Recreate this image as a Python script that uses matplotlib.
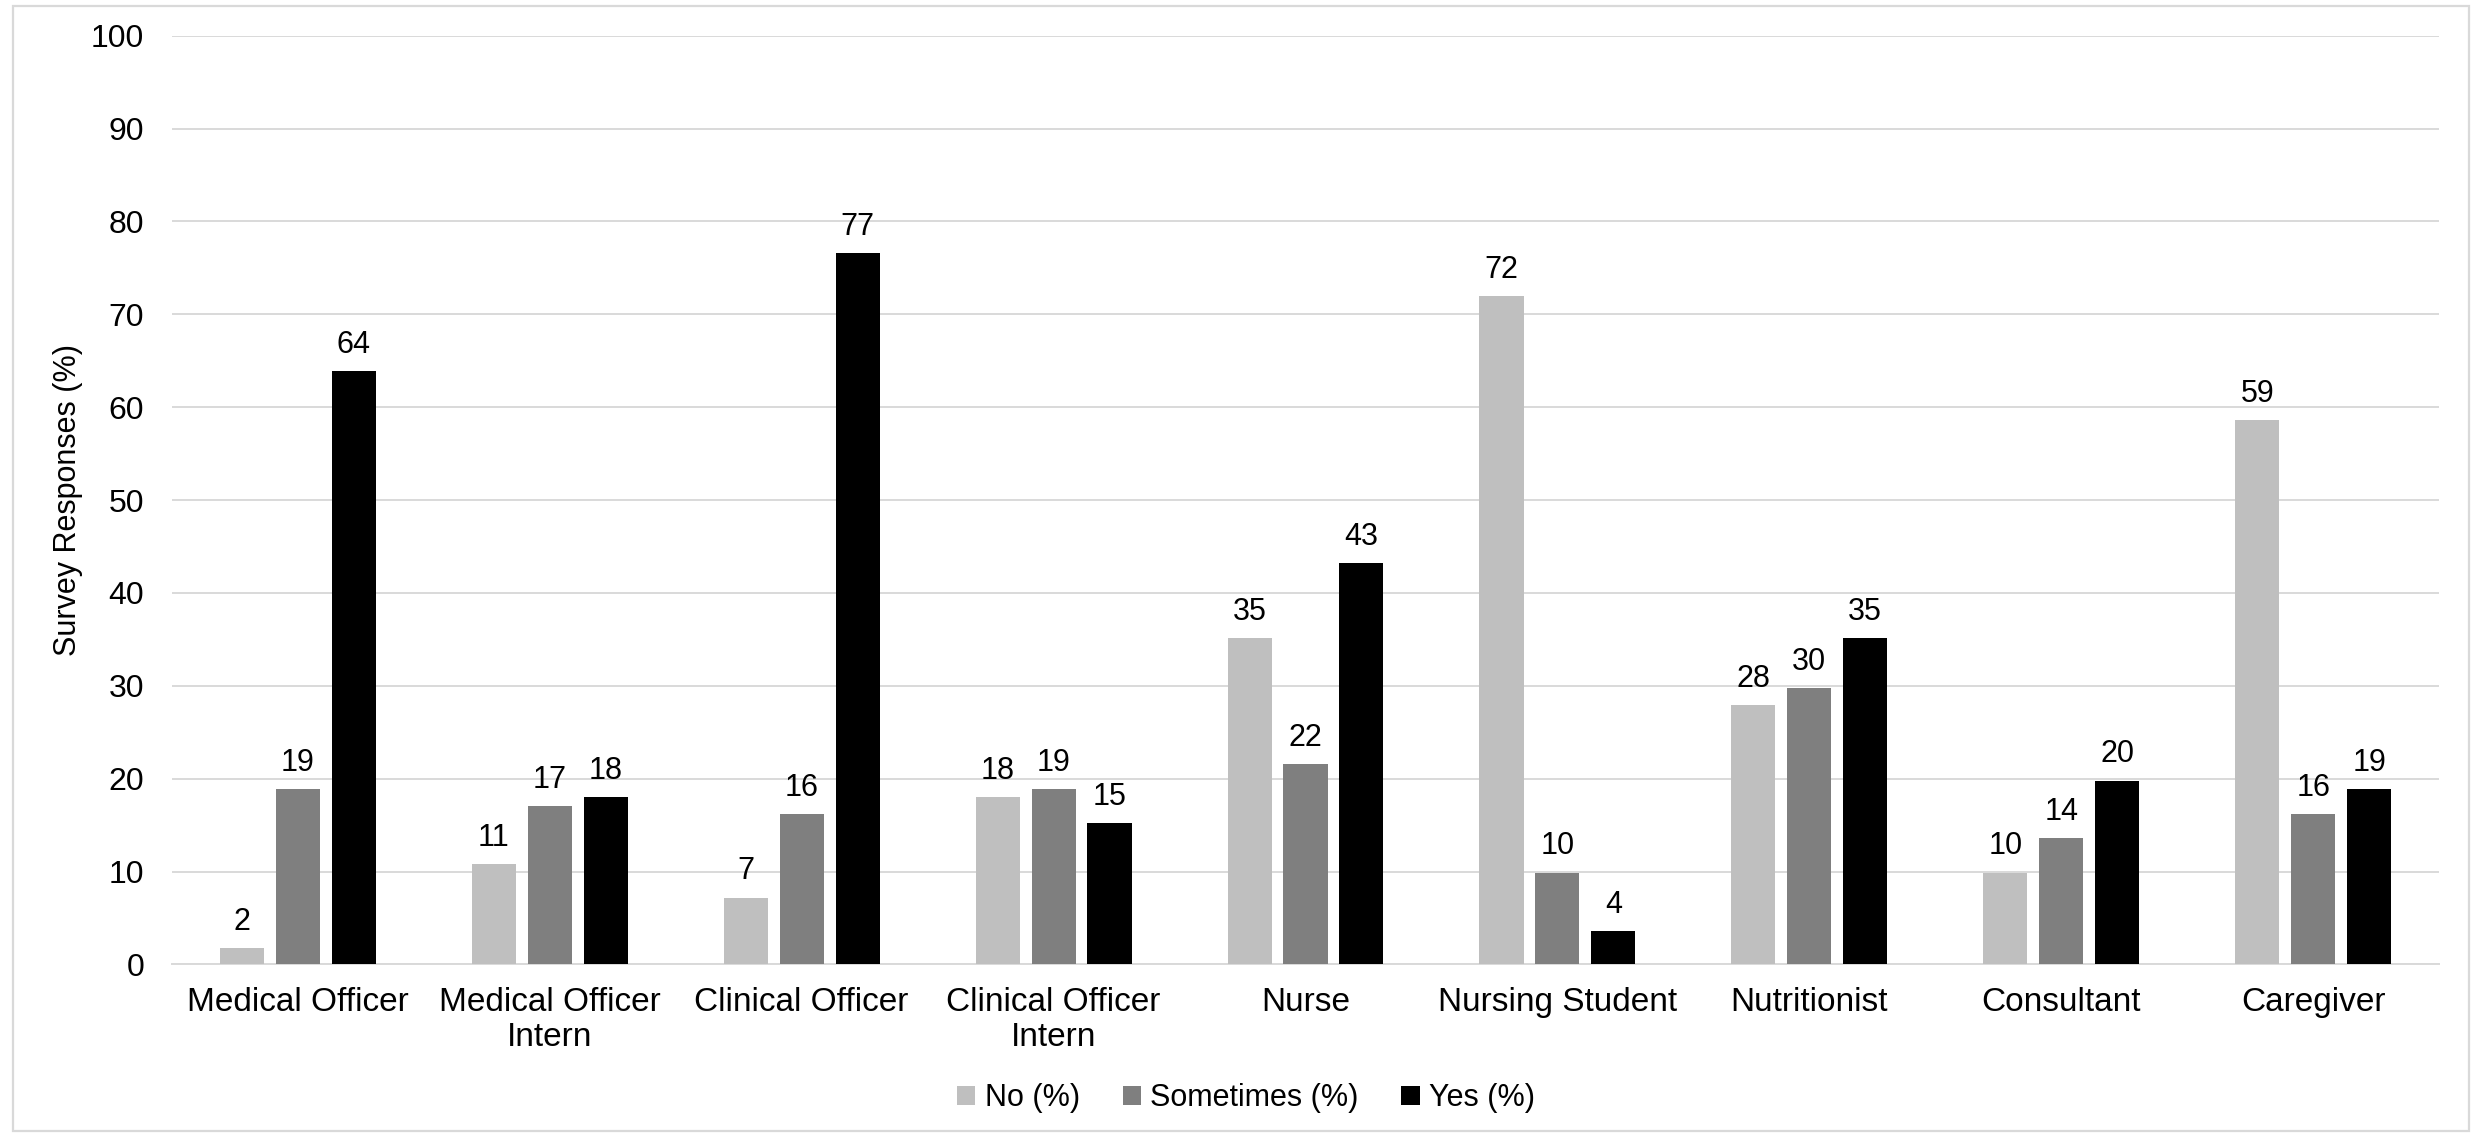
import matplotlib
matplotlib.use("Agg")
import matplotlib.pyplot as plt
import numpy as np
from matplotlib.patches import Rectangle

plt.rcParams["font.family"] = ["Liberation Sans", "DejaVu Sans"]

categories = [
    "Medical Officer", "Medical Officer\nIntern", "Clinical Officer",
    "Clinical Officer\nIntern", "Nurse", "Nursing Student", "Nutritionist",
    "Consultant", "Caregiver",
]
no_pct = [1.8, 10.8, 7.2, 18.0, 35.1, 72.0, 27.9, 9.9, 58.6]
sometimes_pct = [18.9, 17.1, 16.2, 18.9, 21.6, 9.9, 29.8, 13.6, 16.2]
yes_pct = [63.9, 18.0, 76.6, 15.2, 43.2, 3.6, 35.1, 19.8, 18.9]

series = [
    ("No (%)", no_pct, "#BFBFBF"),
    ("Sometimes (%)", sometimes_pct, "#7F7F7F"),
    ("Yes (%)", yes_pct, "#000000"),
]

fig = plt.figure(figsize=(12.385, 5.69), dpi=200)
ax = fig.add_axes([0.0694, 0.1525, 0.9153, 0.8162])

x = np.arange(len(categories))
width = 0.175
step = 0.222

for i, (label, vals, color) in enumerate(series):
    bars = ax.bar(x + (i - 1) * step, vals, width, color=color, label=label, zorder=3)
    for rect, v in zip(bars, vals):
        ax.annotate(f"{v:.0f}", (rect.get_x() + rect.get_width() / 2, v),
                    xytext=(0, 4), textcoords="offset points",
                    ha="center", va="bottom", fontsize=11, color="#000000")

ax.set_ylim(0, 100)
ax.set_yticks(np.arange(0, 101, 10))
ax.set_xlim(-0.5, len(categories) - 0.5)
ax.set_xticks(x)
ax.set_xticklabels(categories, fontsize=12, linespacing=1.2)
ax.tick_params(axis="y", labelsize=11.5, length=0, pad=10)
ax.tick_params(axis="x", length=0, pad=8)
ax.set_ylabel("Survey Responses (%)", fontsize=11, labelpad=3)

ax.grid(axis="y", color="#D9D9D9", linewidth=0.7, zorder=0)
for side in ("top", "right", "left"):
    ax.spines[side].set_visible(False)
ax.spines["bottom"].set_color("#D9D9D9")
ax.spines["bottom"].set_linewidth(0.7)

fig.legend(loc="center", bbox_to_anchor=(0.503, 0.035), ncol=3, frameon=False,
           fontsize=11, handlelength=0.6, handleheight=0.6, handletextpad=0.3,
           columnspacing=1.4)

# light border around the chart area
fig.add_artist(Rectangle((0.0053, 0.006), 0.9915, 0.9887, transform=fig.transFigure,
                         fill=False, edgecolor="#D9D9D9", linewidth=0.8))

fig.savefig("out.png", dpi=200)
